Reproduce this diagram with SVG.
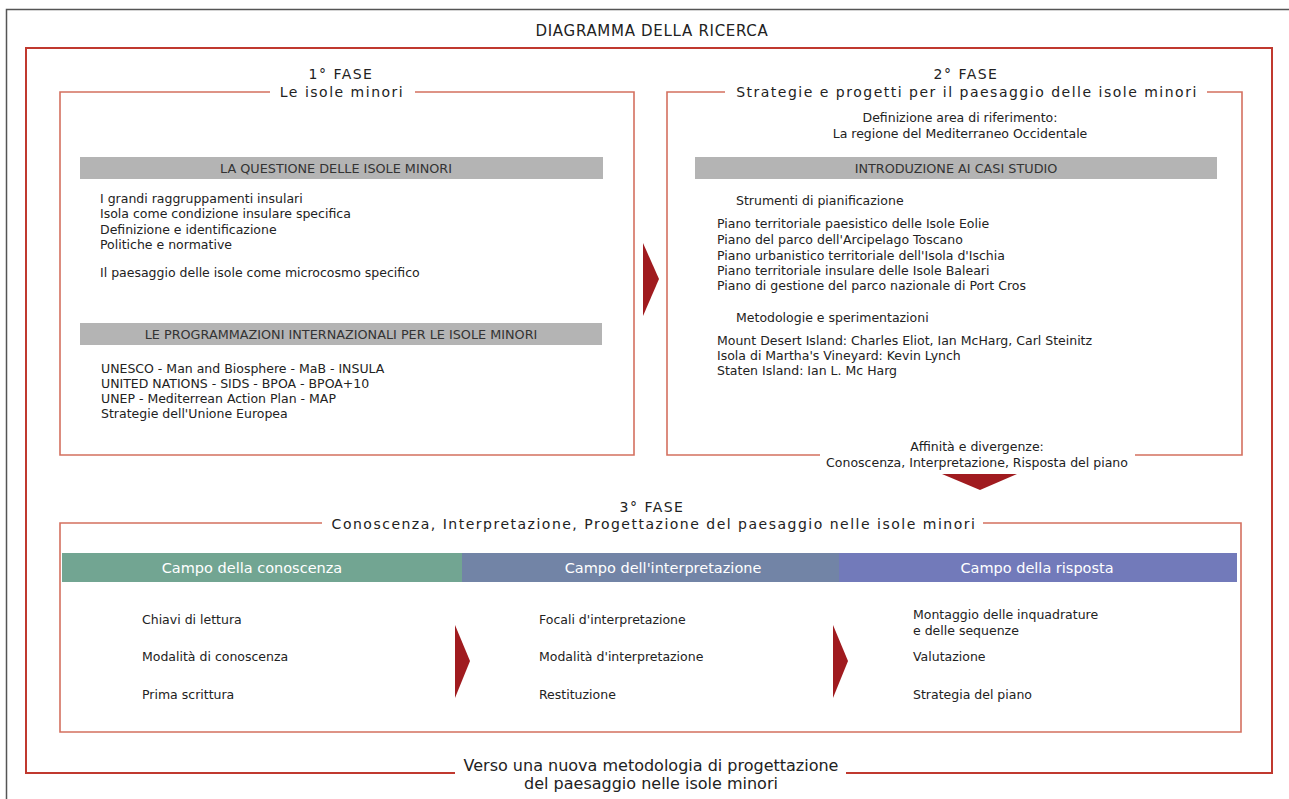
<svg xmlns="http://www.w3.org/2000/svg" width="1289" height="799" viewBox="0 0 1289 799">
<style>
.t{font-family:"DejaVu Sans",Verdana,sans-serif;fill:#222}
.s{font-size:12.5px}
.h{font-size:14px;letter-spacing:1.5px}
.c{text-anchor:middle}
.bar{fill:#b4b4b4}
.bt{font-family:"DejaVu Sans",Verdana,sans-serif;font-size:12.8px;fill:#333;text-anchor:middle}
.box{fill:none;stroke:#d4705f;stroke-width:1.6}
.frame{fill:none;stroke:#c0392f;stroke-width:2}
.arr{fill:#a01b1f}
.ct{font-family:"DejaVu Sans",Verdana,sans-serif;font-size:14.5px;fill:#fff;text-anchor:middle}
</style>
<rect width="1289" height="799" fill="#fff"/>
<path d="M6.5 799 V9.5 H1289" fill="none" stroke="#555" stroke-width="1.5"/>
<text class="t c" x="652" y="36" font-size="15" letter-spacing="0.7">DIAGRAMMA DELLA RICERCA</text>
<path class="frame" d="M455 773 H26 V48 H1272 V773 H846"/>
<text class="t c" x="651" y="771" font-size="16">Verso una nuova metodologia di progettazione</text>
<text class="t c" x="651" y="789" font-size="16">del paesaggio nelle isole minori</text>

<g id="fase1">
<path class="box" d="M270 92 H60 V455 H634 V92 H415"/>
<text class="t h c" x="341" y="79">1° FASE</text>
<text class="t h c" x="342" y="97">Le isole minori</text>
<rect class="bar" x="80" y="157" width="523" height="22"/>
<text class="bt" x="336" y="172.5">LA QUESTIONE DELLE ISOLE MINORI</text>
<text class="t s" x="100" y="203">I grandi raggruppamenti insulari</text>
<text class="t s" x="100" y="218">Isola come condizione insulare specifica</text>
<text class="t s" x="100" y="234">Definizione e identificazione</text>
<text class="t s" x="100" y="249">Politiche e normative</text>
<text class="t s" x="100" y="277">Il paesaggio delle isole come microcosmo specifico</text>
<rect class="bar" x="80" y="323" width="522" height="22"/>
<text class="bt" x="341" y="338.5">LE PROGRAMMAZIONI INTERNAZIONALI PER LE ISOLE MINORI</text>
<text class="t s" x="101" y="373">UNESCO - Man and Biosphere - MaB - INSULA</text>
<text class="t s" x="101" y="388">UNITED NATIONS - SIDS - BPOA - BPOA+10</text>
<text class="t s" x="101" y="403">UNEP - Mediterrean Action Plan - MAP</text>
<text class="t s" x="101" y="418">Strategie dell'Unione Europea</text>
</g>

<g id="fase2">
<path class="box" d="M725 92 H667 V455 H820 M1135 455 H1242 V92 H1207"/>
<text class="t h c" x="966" y="79">2° FASE</text>
<text class="t h c" x="967" y="97">Strategie e progetti per il paesaggio delle isole minori</text>
<text class="t s c" x="960" y="122">Definizione area di riferimento:</text>
<text class="t s c" x="960" y="138">La regione del Mediterraneo Occidentale</text>
<rect class="bar" x="695" y="157" width="522" height="22"/>
<text class="bt" x="956" y="172.5">INTRODUZIONE AI CASI STUDIO</text>
<text class="t s" x="736" y="205">Strumenti di pianificazione</text>
<text class="t s" x="717" y="228">Piano territoriale paesistico delle Isole Eolie</text>
<text class="t s" x="717" y="244">Piano del parco dell'Arcipelago Toscano</text>
<text class="t s" x="717" y="260">Piano urbanistico territoriale dell'Isola d'Ischia</text>
<text class="t s" x="717" y="275">Piano territoriale insulare delle Isole Baleari</text>
<text class="t s" x="717" y="290">Piano di gestione del parco nazionale di Port Cros</text>
<text class="t s" x="736" y="322">Metodologie e sperimentazioni</text>
<text class="t s" x="717" y="345">Mount Desert Island: Charles Eliot, Ian McHarg, Carl Steinitz</text>
<text class="t s" x="717" y="360">Isola di Martha's Vineyard: Kevin Lynch</text>
<text class="t s" x="717" y="375">Staten Island: Ian L. Mc Harg</text>
<text class="t s c" x="977" y="451">Affinità e divergenze:</text>
<text class="t s c" x="977" y="467">Conoscenza, Interpretazione, Risposta del piano</text>
</g>

<g id="fase3">
<path class="box" d="M322 523 H60 V732 H1241 V523 H983"/>
<text class="t h c" x="652" y="512">3° FASE</text>
<text class="t h c" x="654" y="529">Conoscenza, Interpretazione, Progettazione del paesaggio nelle isole minori</text>
<rect x="62" y="553" width="400" height="29" fill="#72a592"/>
<rect x="462" y="553" width="377" height="29" fill="#7284a6"/>
<rect x="839" y="553" width="398" height="29" fill="#727aba"/>
<text class="ct" x="252" y="573">Campo della conoscenza</text>
<text class="ct" x="663" y="573">Campo dell'interpretazione</text>
<text class="ct" x="1037" y="573">Campo della risposta</text>
<text class="t s" x="142" y="624">Chiavi di lettura</text>
<text class="t s" x="142" y="661">Modalità di conoscenza</text>
<text class="t s" x="142" y="699">Prima scrittura</text>
<text class="t s" x="539" y="624">Focali d'interpretazione</text>
<text class="t s" x="539" y="661">Modalità d'interpretazione</text>
<text class="t s" x="539" y="699">Restituzione</text>
<text class="t s" x="913" y="619">Montaggio delle inquadrature</text>
<text class="t s" x="913" y="635">e delle sequenze</text>
<text class="t s" x="913" y="661">Valutazione</text>
<text class="t s" x="913" y="699">Strategia del piano</text>
</g>

<g id="connectors">
<polygon class="arr" points="643,243 659,279 643,316"/>
<polygon class="arr" points="942,474 1017,474 980,490"/>
<polygon class="arr" points="455,625 470,661 455,698"/>
<polygon class="arr" points="833,625 848,661 833,698"/>
</g>
</svg>
